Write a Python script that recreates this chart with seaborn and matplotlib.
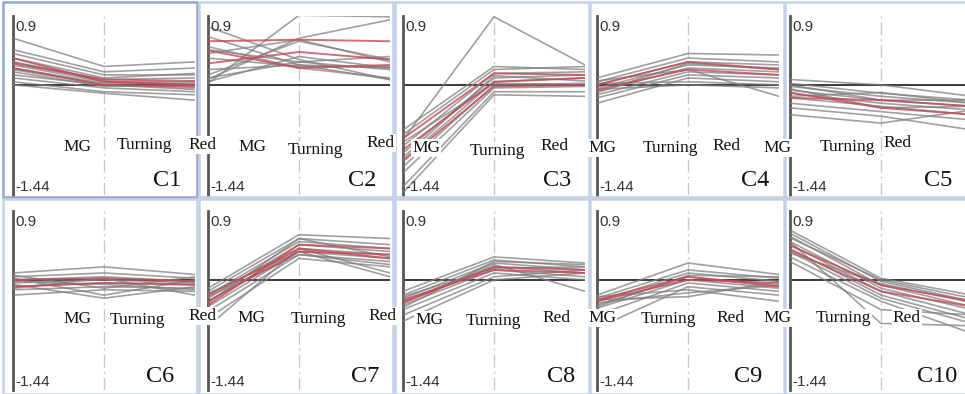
import pandas as pd
import matplotlib
matplotlib.use("Agg")
import matplotlib.pyplot as plt
from matplotlib.patches import Rectangle
import seaborn as sns

# expression profiles: each row is one gene (MG, Turning, Red)
stages = ["MG", "Turning", "Red"]
panel_names = ["C1", "C2", "C3", "C4", "C5", "C6", "C7", "C8", "C9", "C10"]
y_top_label = "0.9"
y_bottom_label = "-1.44"

c1_gray = [[0.61, 0.24, 0.30], [0.46, 0.17, 0.22], [0.41, 0.13, 0.13], [0.35, 0.09, 0.15],
           [0.30, 0.07, 0.09], [0.26, 0.04, 0.04], [0.22, 0.02, 0.02], [0.17, -0.02, 0.00],
           [0.13, 0.00, -0.04], [0.09, -0.04, -0.09], [0.04, -0.09, -0.13], [0.00, -0.11, -0.20],
           [0.20, 0.00, -0.06], [0.30, 0.05, 0.00]]
c1_red = [[0.35, 0.04, 0.00], [0.22, 0.00, -0.02], [0.28, 0.07, 0.05]]

c2_gray = [[0.02, 0.91, 0.89], [0.07, 0.61, 0.85], [0.76, 0.33, 0.07], [0.63, 0.26, 0.22],
           [0.50, 0.22, 0.09], [0.46, 0.30, 0.37], [0.41, 0.59, 0.30], [0.13, 0.57, 0.33],
           [0.09, 0.30, 0.20], [0.04, 0.37, 0.22], [0.20, 0.26, 0.07], [0.35, 0.24, 0.24]]
c2_red = [[0.57, 0.59, 0.57], [0.28, 0.43, 0.33], [0.45, 0.22, 0.26]]

c3_gray = [[-0.72, 0.89, 0.26], [-0.59, 0.24, 0.20], [-0.65, 0.20, 0.24], [-0.80, 0.15, 0.17],
           [-0.89, 0.09, 0.13], [-0.98, 0.04, 0.09], [-1.07, 0.00, 0.02], [-1.15, -0.04, -0.02],
           [-1.33, -0.09, -0.09], [-1.41, -0.13, -0.15], [-0.75, 0.02, 0.00], [-0.95, 0.12, 0.05]]
c3_red = [[-0.85, 0.04, 0.09], [-0.70, 0.15, 0.13], [-1.00, -0.02, 0.00]]

c4_gray = [[0.09, 0.41, 0.39], [0.04, 0.35, 0.30], [0.00, 0.30, 0.26], [-0.04, 0.26, 0.22],
           [-0.09, 0.22, 0.17], [-0.13, 0.17, 0.13], [-0.17, 0.13, 0.09], [-0.24, 0.09, 0.04],
           [0.02, 0.04, 0.00], [-0.06, 0.00, -0.04], [0.05, 0.20, -0.15], [-0.10, 0.28, 0.20]]
c4_red = [[0.00, 0.30, 0.20], [-0.06, 0.20, 0.13]]

c5_gray = [[0.07, 0.00, -0.15], [0.02, -0.11, -0.20], [-0.02, -0.15, -0.24], [-0.07, -0.20, -0.28],
           [-0.11, -0.24, -0.33], [-0.17, -0.28, -0.39], [-0.24, -0.35, -0.46], [-0.30, -0.41, -0.59],
           [-0.39, -0.50, -0.33], [0.00, -0.20, -0.20], [-0.05, -0.30, -0.28], [-0.15, -0.10, -0.24]]
c5_red = [[-0.17, -0.20, -0.28], [-0.10, -0.30, -0.39]]

c6_gray = [[0.09, 0.17, 0.07], [0.04, 0.09, 0.02], [0.00, 0.04, -0.02], [-0.04, 0.00, -0.04],
           [-0.09, -0.04, -0.07], [-0.13, -0.09, -0.11], [-0.20, -0.13, -0.15], [0.02, -0.20, 0.00],
           [-0.06, -0.24, -0.09], [-0.11, 0.02, -0.20], [0.06, -0.11, 0.04], [-0.02, -0.06, -0.13]]
c6_red = [[-0.09, -0.04, -0.06], [0.00, 0.02, -0.02]]

c7_gray = [[-0.11, 0.59, 0.54], [-0.15, 0.54, 0.46], [-0.20, 0.50, 0.41], [-0.24, 0.46, 0.37],
           [-0.28, 0.41, 0.33], [-0.35, 0.37, 0.28], [-0.41, 0.33, 0.24], [-0.50, 0.28, 0.17],
           [-0.61, 0.41, 0.09], [-0.18, 0.37, 0.04], [-0.30, 0.54, 0.30], [-0.22, 0.33, 0.20]]
c7_red = [[-0.28, 0.37, 0.33], [-0.33, 0.46, 0.41], [-0.20, 0.41, 0.28]]

c8_gray = [[-0.15, 0.30, 0.22], [-0.20, 0.26, 0.17], [-0.24, 0.22, 0.13], [-0.28, 0.17, 0.09],
           [-0.33, 0.13, 0.04], [-0.39, 0.09, 0.00], [-0.46, 0.04, 0.13], [-0.54, 0.00, 0.09],
           [-0.30, 0.20, -0.15], [-0.22, 0.15, 0.17], [-0.36, 0.24, 0.20]]
c8_red = [[-0.30, 0.17, 0.13], [-0.26, 0.13, 0.09]]

c9_gray = [[-0.20, 0.22, 0.07], [-0.24, 0.13, 0.02], [-0.28, 0.09, -0.02], [-0.33, 0.04, -0.07],
           [-0.37, 0.00, -0.11], [-0.46, -0.04, -0.15], [-0.63, -0.09, -0.20], [-0.22, -0.13, -0.28],
           [-0.30, -0.17, -0.07], [-0.26, -0.22, -0.02], [-0.35, 0.06, 0.04]]
c9_red = [[-0.28, 0.00, -0.04], [-0.26, 0.04, -0.09]]

c10_gray = [[0.65, 0.02, -0.20], [0.61, -0.02, -0.28], [0.57, -0.07, -0.35], [0.50, -0.11, -0.39],
            [0.46, -0.15, -0.46], [0.41, -0.20, -0.52], [0.37, -0.24, -0.57], [0.30, -0.28, -0.70],
            [0.24, -0.39, -0.46], [0.50, -0.57, -0.60], [0.55, 0.00, -0.24], [0.35, -0.05, -0.30]]
c10_red = [[0.39, -0.15, -0.35], [0.45, -0.07, -0.28]]

gray_sets = [c1_gray, c2_gray, c3_gray, c4_gray, c5_gray, c6_gray, c7_gray, c8_gray, c9_gray, c10_gray]
red_sets = [c1_red, c2_red, c3_red, c4_red, c5_red, c6_red, c7_red, c8_red, c9_red, c10_red]

# long-form table for seaborn
rows = []
for name, grays, reds in zip(panel_names, gray_sets, red_sets):
    for kind, profiles in (("gray", grays), ("red", reds)):
        for g, prof in enumerate(profiles):
            for s, v in zip(stages, prof):
                rows.append({"panel": name, "kind": kind, "gene": f"{kind}{g}",
                             "stage": s, "pos": stages.index(s), "value": v})
df = pd.DataFrame(rows)

# ---- layout (pixels of the 965x394 picture) ----
W, H = 965, 394
spine_x = [13, 208, 403, 597, 790]
row_top = [16, 211]
ax_h = 179
ax_w = 182
box_x = [3, 199, 395, 590, 785]
box_w = 194
box_y = [2, 199]
box_h = 195

# stage label positions (x, y centre, px), hand placed like the original collage
label_pos = [
    [(77, 147), (144, 145), (203, 145)],
    [(252, 147), (315, 150), (381, 143)],
    [(426, 148), (497, 151), (555, 146)],
    [(602, 148), (670, 148), (727, 146)],
    [(777, 148), (847, 147), (898, 143)],
    [(77, 319), (137, 320), (203, 316)],
    [(251, 318), (318, 319), (383, 316)],
    [(429, 320), (493, 321), (557, 318)],
    [(602, 318), (668, 319), (731, 318)],
    [(777, 318), (843, 318), (907, 318)],
]
clabel_pos = [(167, 181), (362, 181), (557, 181), (755, 181), (938, 181),
              (160, 377), (365, 377), (561, 377), (748, 377), (937, 377)]

sns.set_style("white")
plt.rcParams["font.family"] = ["Liberation Sans", "DejaVu Sans"]

fig = plt.figure(figsize=(W / 100, H / 100), dpi=100)
fig.patch.set_facecolor("white")


def fx(x):
    return x / W


def fy(y):
    return 1 - y / H


for i, name in enumerate(panel_names):
    r, c = divmod(i, 5)
    ax = fig.add_axes([fx(spine_x[c]), fy(row_top[r] + ax_h), ax_w / W, ax_h / H])
    sub = df[df["panel"] == name]
    ax.axvline(1, color="#c8c8c8", lw=1.0, ls=(0, (9, 3, 1.5, 3)), zorder=1)
    ax.axhline(0, color="#3a3a3a", lw=1.4, zorder=2)
    sns.lineplot(data=sub[sub["kind"] == "gray"], x="pos", y="value", units="gene",
                 estimator=None, color="#808080", lw=1.2, alpha=0.75, ax=ax,
                 legend=False, zorder=3)
    sns.lineplot(data=sub[sub["kind"] == "red"], x="pos", y="value", units="gene",
                 estimator=None, color="#c24a55", lw=1.4, alpha=0.8, ax=ax,
                 legend=False, zorder=4)
    ax.set_xlim(0, 2)
    ax.set_ylim(-1.44, 0.9)
    ax.set_xticks([])
    ax.set_yticks([])
    ax.set_xlabel("")
    ax.set_ylabel("")
    for side in ("top", "right", "bottom"):
        ax.spines[side].set_visible(False)
    ax.spines["left"].set_color("#555555")
    ax.spines["left"].set_linewidth(2)
    ax.text(0.012, 0.94, y_top_label, transform=ax.transAxes, fontsize=11,
            color="#333333", va="center", ha="left")
    ax.text(0.012, 0.045, y_bottom_label, transform=ax.transAxes, fontsize=11,
            color="#333333", va="center", ha="left")

    # panel frame
    ec = "#8fa8cc" if i == 0 else "#c3d2e4"
    fig.add_artist(Rectangle((fx(box_x[c]), fy(box_y[r] + box_h)), box_w / W, box_h / H,
                             transform=fig.transFigure, fill=False, ec=ec, lw=1.8, zorder=5))

    for s, (lx, ly) in zip(stages, label_pos[i]):
        fig.text(fx(lx), fy(ly), s, family="Liberation Serif", fontsize=12.5,
                 ha="center", va="center", color="#111111", zorder=6,
                 bbox=dict(fc="white", ec="none", pad=1.0))
    cx, cy = clabel_pos[i]
    fig.text(fx(cx), fy(cy), name, family="Liberation Serif", fontsize=17.5,
             ha="center", va="center", color="#111111", zorder=6)

fig.savefig("out.png", dpi=100)
